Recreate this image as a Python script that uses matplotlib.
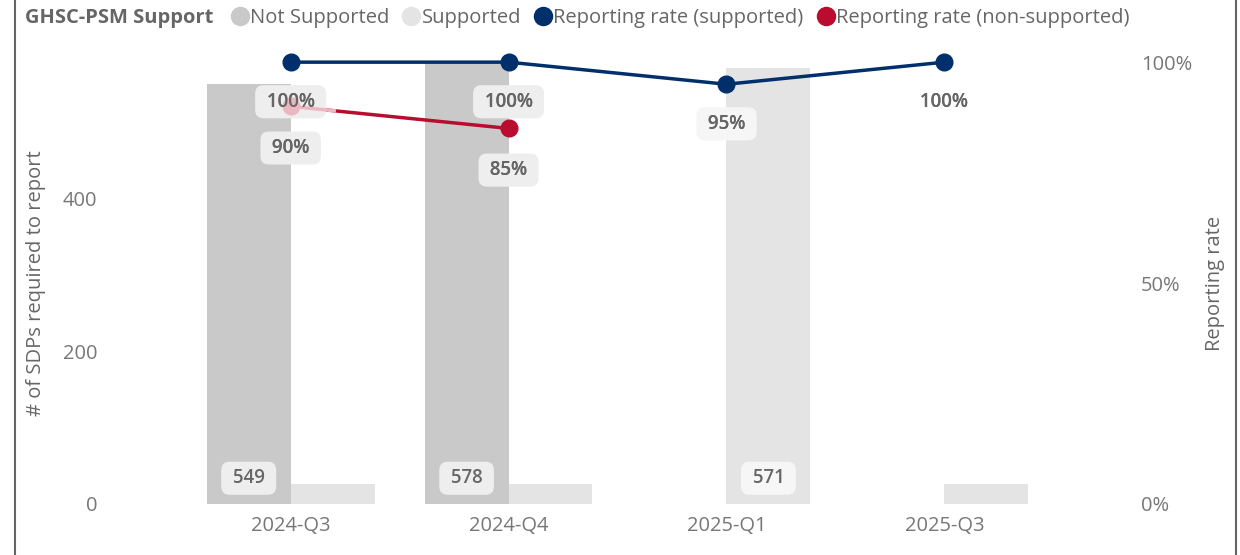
import numpy as np
import matplotlib
matplotlib.use("Agg")
import matplotlib.pyplot as plt
from matplotlib.lines import Line2D

plt.rcParams['font.family'] = ['Open Sans', 'DejaVu Sans']

# data
quarters = ['2024-Q3', '2024-Q4', '2025-Q1', '2025-Q3']
not_supported = [549, 578, 0, 0]
supported = [26, 26, 571, 26]
rate_supported = [1.00, 1.00, 0.95, 1.00]
rate_non_supported = [0.90, 0.85]

c_not = '#C9C9C9'
c_sup = '#E4E4E4'
c_blue = '#002F6C'
c_red = '#BA0C2F'
c_pink = '#EBB7C2'
c_txt = '#666666'
fs = 14.5

fig = plt.figure(figsize=(12.4, 5.55), dpi=100)
ax = fig.add_axes([0.085, 0.092, 0.826, 0.796])
ax2 = ax.twinx()

x = np.arange(len(quarters))
w = 0.385
ax.bar(x - w / 2, not_supported, w, color=c_not, clip_on=False, zorder=1)
ax.bar(x + w / 2, supported, w, color=c_sup, clip_on=False, zorder=1)

box = dict(boxstyle='round,pad=0.35,rounding_size=0.45', ec='none')

# bar labels inside base
for i in range(len(quarters)):
    for off, val, fc in [(-w / 2, not_supported[i], '#EEEEEE'), (w / 2, supported[i], '#F6F6F6')]:
        if val > 100:
            ax.annotate(f' {val} ', (x[i] + off, 0), xytext=(0, 18.5), textcoords='offset points',
                        ha='center', va='center', fontsize=fs - 1, color=c_txt, fontweight='semibold',
                        bbox=dict(box, fc=fc))

ax.set_ylim(0, 578)
ax.set_xlim(-0.85, 3.85)
ax.set_yticks([0, 200, 400])
ax.set_xticks(x)
ax.set_xticklabels(quarters)
ax.set_ylabel('# of SDPs required to report', fontsize=fs, color=c_txt, labelpad=12)

ax2.set_ylim(0, 1)
ax2.set_yticks([0, 0.5, 1.0])
ax2.set_yticklabels(['0%', '50%', '100%'])
ax2.set_ylabel('Reporting rate', fontsize=fs, color=c_txt, labelpad=9)

for a in (ax, ax2):
    for s in a.spines.values():
        s.set_visible(False)
    a.tick_params(length=0, labelsize=fs, colors='#777777')
ax.tick_params(axis='y', pad=6)
ax.tick_params(axis='x', pad=9)
ax2.tick_params(axis='y', pad=8)

# lines
xr = x[:len(rate_non_supported)]
ax2.plot(xr, rate_non_supported, color=c_red, lw=2.5, marker='o', ms=12, clip_on=False, zorder=3)
ax2.plot(x, rate_supported, color=c_blue, lw=2.5, marker='o', ms=12, clip_on=False, zorder=4)

# labels: boxes first, then faded start of the red series, then text
label_fc = ['#EEEEEE', '#EEEEEE', '#F6F6F6', 'none']
lab = []
for i, v in enumerate(rate_supported):
    lab.append((x[i], v, -28.5, label_fc[i]))
for i, v in enumerate(rate_non_supported):
    lab.append((x[i], v, -30, '#EEEEEE'))
for xi, v, dy, fc in lab:
    ax2.annotate(f' {v:.0%} ', (xi, v), xytext=(0, dy), textcoords='offset points',
                 ha='center', va='center', fontsize=fs - 1, color=c_txt, fontweight='semibold', zorder=5,
                 bbox=dict(box, fc=fc))

t = 0.2
xf = [xr[0], xr[0] + t * (xr[1] - xr[0])]
yf = [rate_non_supported[0], rate_non_supported[0] + t * (rate_non_supported[1] - rate_non_supported[0])]
ax2.plot(xf, yf, color=c_pink, lw=2.5, clip_on=False, zorder=5.5)
ax2.plot([xr[0]], [rate_non_supported[0]], 'o', color=c_pink, ms=12, clip_on=False, zorder=5.5)

for xi, v, dy, fc in lab:
    ax2.annotate(f' {v:.0%} ', (xi, v), xytext=(0, dy), textcoords='offset points',
                 ha='center', va='center', fontsize=fs - 1, color=c_txt, fontweight='semibold', zorder=6)

# legend
fig.text(0.02, 0.967, 'GHSC-PSM Support', fontsize=fs, fontweight='bold', color=c_txt, va='center')
handles = [Line2D([], [], ls='none', marker='o', ms=13, color=c) for c in (c_not, c_sup, c_blue, c_red)]
names = ['Not Supported', 'Supported', 'Reporting rate (supported)', 'Reporting rate (non-supported)']
leg = fig.legend(handles, names, loc='center left', bbox_to_anchor=(0.1885, 0.967), ncol=4, frameon=False,
                 fontsize=fs, handlelength=0.6, handletextpad=0.2, columnspacing=0.8, borderpad=0,
                 borderaxespad=0)
for t_ in leg.get_texts():
    t_.set_color(c_txt)

# frame edges
fig.add_artist(Line2D([0.012, 0.012], [0, 1], color='#666666', lw=1.5, transform=fig.transFigure))
fig.add_artist(Line2D([0.997, 0.997], [0, 1], color='#666666', lw=1.5, transform=fig.transFigure))

fig.savefig('out.png', dpi=100)
